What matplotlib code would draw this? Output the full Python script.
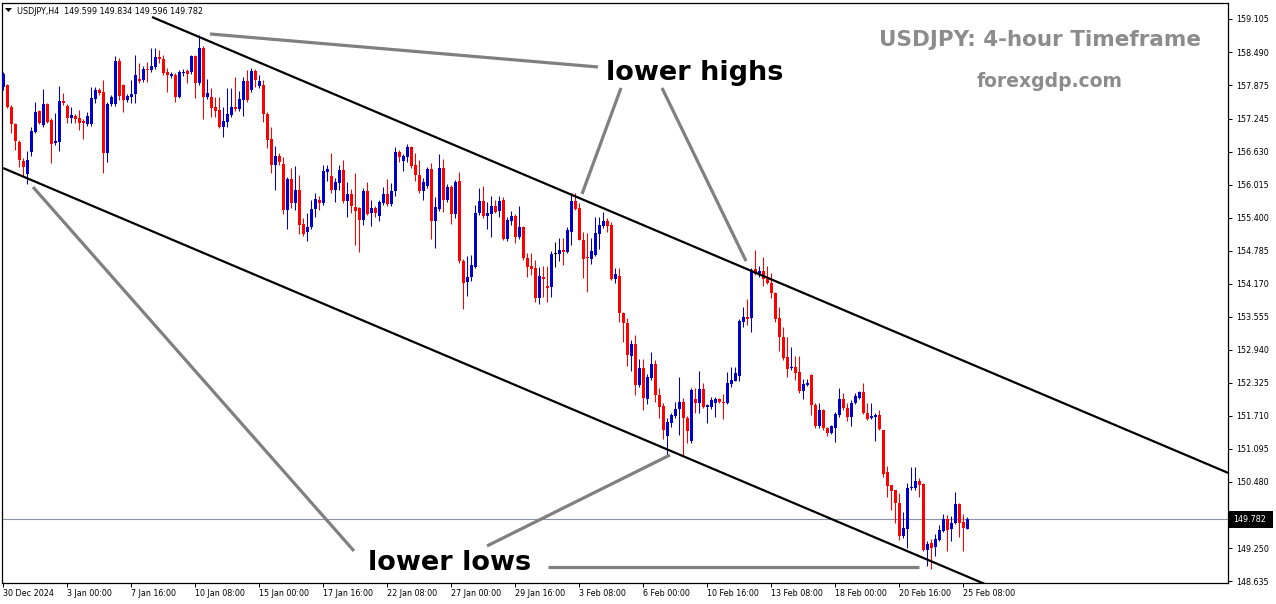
import matplotlib
matplotlib.use("Agg")
import matplotlib.pyplot as plt
import numpy as np
from matplotlib.patches import Polygon, Rectangle

# ---------------- data (USDJPY H4 candles) ----------------
opens = [157.84, 157.88, 157.47, 157.15, 156.81, 156.46, 156.22, 156.63, 157.00, 157.39,
157.13, 157.52, 157.22, 156.80, 156.81, 157.58, 157.49, 157.26, 157.30, 157.26,
157.21, 157.15, 157.15, 157.61, 157.78, 157.75, 156.61, 157.52, 157.52, 158.32,
157.88, 157.60, 157.65, 157.71, 157.99, 157.97, 158.17, 158.16, 158.21, 158.40,
158.36, 158.12, 158.04, 158.06, 157.65, 158.10, 158.14, 158.12, 158.41, 157.91,
158.56, 157.65, 157.65, 157.47, 157.41, 157.09, 157.19, 157.32, 157.47, 157.43,
157.60, 157.95, 157.78, 158.14, 157.86, 157.88, 157.34, 156.87, 156.39, 156.55,
156.40, 155.55, 156.12, 155.68, 155.92, 155.29, 155.14, 155.23, 155.56, 155.73,
155.68, 156.25, 156.18, 155.92, 156.05, 156.29, 155.71, 155.84, 155.60, 155.58,
155.36, 155.90, 155.49, 155.58, 155.43, 155.68, 155.84, 155.66, 155.90, 156.63,
156.46, 156.53, 156.72, 156.39, 156.20, 155.90, 155.99, 156.31, 155.34, 155.56,
156.33, 155.73, 155.98, 155.47, 156.09, 154.60, 154.21, 154.30, 154.48, 155.49,
155.71, 155.43, 155.47, 155.62, 155.53, 155.73, 155.01, 155.34, 155.43, 155.04,
155.23, 154.65, 154.50, 154.47, 153.90, 154.30, 154.13, 154.11, 154.73, 154.73,
154.80, 154.76, 155.14, 155.71, 155.58, 154.99, 154.67, 154.63, 154.71, 155.10,
155.25, 155.34, 155.27, 154.26, 154.32, 153.63, 153.44, 152.83, 153.05, 152.29,
152.60, 152.02, 152.42, 152.68, 152.10, 151.90, 151.34, 151.58, 151.71, 151.84,
151.97, 151.67, 151.24, 152.02, 151.95, 152.21, 151.88, 151.88, 151.95, 152.02,
151.97, 151.95, 152.31, 152.36, 152.45, 153.46, 153.55, 153.53, 154.45, 154.35,
154.41, 154.26, 154.19, 154.00, 153.53, 153.18, 152.81, 152.60, 152.62, 152.53,
152.17, 152.29, 152.47, 151.91, 151.52, 151.82, 151.49, 151.39, 151.49, 151.73,
152.02, 151.86, 151.69, 151.95, 152.04, 152.15, 151.77, 151.67, 151.69, 151.73,
151.45, 150.67, 150.43, 150.33, 150.09, 149.47, 149.60, 150.37, 150.37, 150.50,
150.44, 149.21, 149.34, 149.27, 149.40, 149.57, 149.79, 149.60, 149.71, 150.07,
149.73, 149.599]

highs = [158.12, 157.89, 157.50, 157.17, 156.85, 156.52, 156.65, 157.09, 157.56, 157.41,
157.80, 157.54, 157.26, 157.35, 157.86, 157.73, 157.52, 157.47, 157.34, 157.41,
157.24, 157.37, 157.84, 157.84, 157.82, 157.97, 157.56, 157.69, 158.41, 158.38,
157.89, 157.71, 157.97, 158.43, 158.29, 158.23, 158.30, 158.56, 158.56, 158.53,
158.43, 158.19, 158.12, 158.10, 158.15, 158.17, 158.17, 158.43, 158.43, 158.81,
158.60, 157.99, 157.82, 157.65, 157.65, 157.47, 157.82, 157.82, 158.02, 157.76,
158.02, 158.15, 158.19, 158.17, 158.06, 157.97, 157.37, 157.09, 156.74, 156.61,
156.53, 156.16, 156.33, 156.37, 156.20, 155.40, 155.49, 155.73, 155.86, 155.80,
156.39, 156.39, 156.61, 156.14, 156.39, 156.48, 156.07, 155.94, 156.24, 155.60,
155.96, 156.07, 155.73, 155.62, 155.73, 155.98, 156.12, 156.05, 156.72, 156.67,
156.59, 156.78, 156.74, 156.61, 156.48, 156.14, 156.35, 156.42, 155.79, 156.59,
156.50, 156.03, 156.01, 156.11, 156.25, 154.63, 154.69, 154.71, 155.64, 155.96,
155.99, 155.69, 155.80, 155.73, 155.80, 155.79, 155.41, 155.53, 155.47, 155.62,
155.25, 154.75, 154.75, 154.62, 154.48, 154.50, 154.50, 154.78, 154.95, 155.03,
155.03, 155.23, 155.86, 155.86, 155.67, 155.14, 155.12, 155.03, 155.41, 155.41,
155.51, 155.40, 155.32, 154.47, 154.47, 153.65, 153.53, 153.12, 153.22, 152.77,
152.77, 152.49, 152.90, 152.75, 152.23, 151.95, 151.67, 151.76, 151.97, 152.43,
152.04, 151.71, 152.23, 152.23, 152.55, 152.32, 151.93, 152.06, 152.06, 152.04,
152.12, 152.53, 152.62, 152.62, 153.52, 153.74, 153.89, 154.47, 154.80, 154.50,
154.67, 154.50, 154.37, 154.02, 153.74, 153.37, 153.18, 152.99, 152.83, 152.83,
152.40, 152.40, 152.49, 151.95, 151.95, 151.84, 151.51, 151.54, 151.78, 152.23,
152.14, 151.95, 152.01, 152.14, 152.17, 152.32, 151.95, 151.95, 151.76, 151.82,
151.45, 150.78, 150.43, 150.33, 150.28, 149.92, 150.46, 150.76, 150.76, 150.56,
150.46, 149.38, 149.42, 149.51, 149.68, 149.88, 149.86, 149.85, 150.29, 150.09,
149.88, 149.834]

lows = [157.78, 157.45, 156.98, 156.67, 156.35, 156.16, 156.03, 156.55, 156.98, 157.15,
157.09, 157.17, 156.42, 156.76, 156.65, 157.50, 157.17, 157.17, 157.17, 157.04,
156.87, 157.11, 157.11, 157.54, 157.69, 156.24, 156.44, 157.49, 157.49, 157.60,
157.37, 157.56, 157.54, 157.54, 157.91, 157.93, 157.93, 158.12, 158.17, 158.28,
158.06, 157.75, 158.01, 157.56, 157.63, 158.04, 157.91, 158.08, 157.63, 157.88,
157.24, 157.61, 157.28, 157.28, 157.07, 156.91, 157.09, 157.28, 157.39, 157.39,
157.30, 157.56, 157.75, 157.84, 157.82, 157.19, 156.70, 156.24, 155.92, 156.39,
155.47, 155.19, 155.58, 155.55, 155.10, 155.06, 154.97, 155.19, 155.41, 155.55,
155.64, 156.09, 155.86, 155.70, 155.92, 155.68, 155.41, 155.49, 154.90, 154.76,
155.27, 155.45, 155.25, 155.41, 155.34, 155.64, 155.62, 155.62, 155.81, 156.44,
156.27, 156.44, 156.33, 156.09, 155.86, 155.73, 155.96, 155.01, 154.84, 155.53,
155.51, 155.69, 155.29, 155.40, 154.56, 153.70, 153.94, 154.22, 154.47, 155.45,
155.40, 155.19, 155.04, 155.49, 155.41, 154.99, 154.97, 155.27, 154.93, 155.01,
154.62, 154.30, 154.34, 153.83, 153.79, 153.93, 153.83, 153.93, 154.49, 154.60,
154.52, 154.75, 154.90, 155.55, 154.99, 154.28, 154.02, 154.54, 154.69, 154.82,
155.21, 155.14, 154.24, 154.19, 153.46, 153.09, 152.64, 152.55, 152.10, 152.25,
151.82, 151.93, 152.38, 151.97, 151.67, 151.28, 150.95, 151.50, 151.67, 151.36,
150.98, 151.21, 151.21, 151.76, 151.76, 151.86, 151.58, 151.84, 151.69, 151.95,
151.65, 151.93, 152.25, 152.36, 152.36, 153.37, 153.40, 153.27, 154.34, 154.30,
154.13, 154.17, 153.91, 153.46, 152.92, 152.75, 152.44, 152.57, 152.38, 152.14,
152.02, 152.27, 151.73, 151.49, 151.49, 151.45, 151.34, 151.37, 151.22, 151.69,
151.82, 151.62, 151.52, 151.93, 152.02, 151.75, 151.64, 151.65, 151.24, 151.45,
150.57, 150.20, 149.96, 149.72, 149.40, 149.44, 149.25, 150.33, 150.33, 150.20,
149.19, 148.92, 148.86, 149.10, 149.38, 149.55, 149.19, 149.38, 149.70, 149.45,
149.19, 149.596]

closes = [158.08, 157.47, 157.15, 156.83, 156.48, 156.35, 156.48, 157.02, 157.37, 157.17,
157.52, 157.19, 156.78, 156.83, 157.58, 157.54, 157.26, 157.32, 157.24, 157.17,
157.17, 157.30, 157.63, 157.78, 157.73, 156.61, 157.52, 157.65, 158.32, 157.67,
157.60, 157.67, 157.71, 158.06, 157.95, 158.17, 158.16, 158.23, 158.40, 158.36,
158.10, 158.06, 158.08, 157.65, 158.12, 158.12, 158.08, 158.41, 157.91, 158.56,
157.65, 157.73, 157.45, 157.39, 157.09, 157.21, 157.34, 157.47, 157.43, 157.61,
157.95, 157.60, 158.14, 157.97, 157.95, 157.34, 156.85, 156.39, 156.55, 156.44,
155.55, 156.12, 155.68, 155.92, 155.27, 155.10, 155.23, 155.56, 155.75, 155.68,
156.27, 156.31, 155.92, 156.07, 156.29, 155.71, 155.84, 155.62, 155.53, 155.36,
155.90, 155.47, 155.58, 155.49, 155.69, 155.84, 155.66, 155.90, 156.63, 156.53,
156.55, 156.72, 156.37, 156.20, 155.90, 156.07, 156.31, 155.34, 155.60, 156.33,
155.73, 155.98, 155.47, 156.07, 154.60, 154.19, 154.30, 154.52, 155.49, 155.71,
155.43, 155.49, 155.62, 155.51, 155.71, 155.01, 155.36, 155.43, 155.04, 155.23,
154.65, 154.49, 154.45, 153.90, 154.32, 154.26, 154.09, 154.73, 154.73, 154.80,
154.76, 155.17, 155.71, 155.56, 154.99, 154.63, 154.65, 154.78, 155.12, 155.27,
155.34, 155.25, 154.26, 154.35, 153.63, 153.44, 152.85, 153.05, 152.29, 152.60,
152.04, 152.43, 152.68, 152.10, 151.88, 151.45, 151.60, 151.73, 151.84, 151.97,
151.67, 151.43, 152.19, 151.95, 152.21, 151.88, 151.91, 152.01, 152.02, 151.97,
151.96, 152.32, 152.38, 152.51, 153.48, 153.55, 153.52, 154.41, 154.35, 154.41,
154.26, 154.19, 154.00, 153.52, 153.18, 152.79, 152.59, 152.62, 152.51, 152.17,
152.31, 152.32, 151.91, 151.52, 151.82, 151.49, 151.39, 151.52, 151.75, 152.02,
151.86, 151.69, 151.95, 152.08, 152.15, 151.77, 151.65, 151.71, 151.73, 151.47,
150.63, 150.41, 150.31, 150.09, 149.47, 149.62, 150.37, 150.39, 150.50, 150.43,
149.21, 149.32, 149.25, 149.42, 149.59, 149.79, 149.59, 149.71, 150.07, 149.71,
149.62, 149.782]

date_labels = ["30 Dec 2024", "3 Jan 00:00", "7 Jan 16:00", "10 Jan 08:00", "15 Jan 00:00",
               "17 Jan 16:00", "22 Jan 08:00", "27 Jan 00:00", "29 Jan 16:00", "3 Feb 08:00",
               "6 Feb 00:00", "10 Feb 16:00", "13 Feb 08:00", "18 Feb 00:00", "20 Feb 16:00",
               "25 Feb 08:00"]
bars_per_label = 16

price_ticks = [159.105, 158.490, 157.875, 157.245, 156.630, 156.015, 155.400, 154.785,
               154.170, 153.555, 152.940, 152.325, 151.710, 151.095, 150.480, 149.865,
               149.250, 148.635]

last_price = 149.782
header = "USDJPY,H4  149.599 149.834 149.596 149.782"

# channel lines (bar index, price)
upper_channel = [(37.25, 159.142), (306.25, 150.650)]
lower_channel = [(0.0, 156.329), (250.0, 148.436)]

# grey annotation connectors (bar index, price)
connectors = [
    [(51.75, 158.826), (148.75, 158.211)],
    [(154.5, 157.820), (144.75, 155.845)],
    [(164.75, 157.820), (185.75, 154.597)],
    [(7.5, 155.975), (87.75, 149.194)],
    [(121.0, 149.288), (166.75, 150.983)],
    [(136.25, 148.896), (229.0, 148.896)],
]

# ---------------- figure ----------------
W, H = 1276, 604
fig = plt.figure(figsize=(W / 100, H / 100), dpi=100)
fig.patch.set_facecolor("white")
ax = fig.add_axes([2 / W, (H - 583) / H, 1226 / W, 580 / H])
ax.set_facecolor("white")

BULL = "#0000cc"
BEAR = "#ff0000"
DOJI = "#000000"

o = np.array(opens)
h = np.array(highs)
l = np.array(lows)
c = np.array(closes)
x = np.arange(len(c))
cols = np.where(c > o, BULL, np.where(c < o, BEAR, DOJI))

ax.vlines(x, l, h, colors=cols, linewidth=0.75, zorder=3)
body_bottom = np.minimum(o, c)
body_height = np.maximum(np.abs(c - o), 0.014)
ax.bar(x, body_height, bottom=body_bottom, width=0.75, color=cols, linewidth=0, zorder=4)

# channel
for line in (upper_channel, lower_channel):
    (x0, y0), (x1, y1) = line
    ax.plot([x0, x1], [y0, y1], color="black", lw=1.6, zorder=5, solid_capstyle="butt")

for seg in connectors:
    (x0, y0), (x1, y1) = seg
    ax.plot([x0, x1], [y0, y1], color="#808080", lw=2.3, zorder=6, solid_capstyle="butt")

# current price line
ax.axhline(last_price, color="#8a94a4", lw=0.8, zorder=2)

ax.set_xlim(-0.25, 306.25)
ax.set_ylim(148.598, 159.403)

# axes styling
for s in ax.spines.values():
    s.set_color("black")
    s.set_linewidth(0.9)

ax.yaxis.tick_right()
ax.set_yticks(price_ticks)
ax.set_yticklabels([f"{p:.3f}" for p in price_ticks])
ax.tick_params(axis="y", direction="out", length=3, width=0.7, pad=3,
               labelsize=5.8, colors="black")
xt = np.arange(len(date_labels)) * bars_per_label
ax.set_xticks(xt)
ax.set_xticklabels(date_labels, ha="left")
ax.tick_params(axis="x", direction="out", length=3, width=0.7, pad=1.5,
               labelsize=5.8, colors="black")
for t in ax.get_xticklabels():
    t.set_horizontalalignment("left")

# current price box
fig.add_artist(Rectangle((1229 / W, 1 - 528 / H), 44 / W, 17 / H,
                         transform=fig.transFigure, facecolor="black",
                         edgecolor="none", zorder=10))
fig.text(1233 / W, 1 - 519.5 / H, f"{last_price:.3f}", color="white",
         fontsize=5.8, va="center", ha="left", zorder=11)

# header
fig.add_artist(Polygon([(5 / W, 1 - 8 / H), (12 / W, 1 - 8 / H), (8.5 / W, 1 - 12 / H)],
                       closed=True, transform=fig.transFigure, facecolor="black",
                       edgecolor="none"))
fig.text(17 / W, 1 - 11 / H, header, fontsize=5.8, va="center", ha="left", color="black")

# annotations
fig.text(1201 / W, 1 - 46 / H, "USDJPY: 4-hour Timeframe", ha="right", va="baseline",
         fontsize=15.5, fontweight="bold", color="#8c8c8c")
fig.text(1050 / W, 1 - 87 / H, "forexgdp.com", ha="center", va="baseline",
         fontsize=13.5, fontweight="bold", color="#8c8c8c")
fig.text(606 / W, 1 - 80 / H, "lower highs", ha="left", va="baseline",
         fontsize=19.5, fontweight="bold", color="black")
fig.text(368 / W, 1 - 570 / H, "lower lows", ha="left", va="baseline",
         fontsize=19.5, fontweight="bold", color="black")

fig.savefig("out.png", dpi=100, facecolor="white")
